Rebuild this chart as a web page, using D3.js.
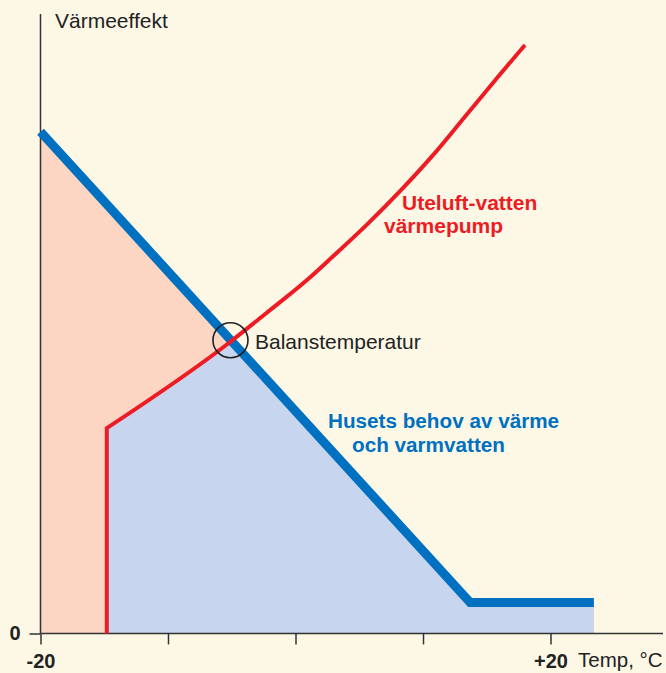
<!DOCTYPE html>
<html lang="sv">
<head>
<meta charset="utf-8" />
<title>Balanstemperatur</title>
<style>
  html, body { margin: 0; padding: 0; background: #fdf8e6; }
  svg { display: block; font-family: "Liberation Sans", Arial, Helvetica, sans-serif; }
</style>
</head>
<body>
<div id="chart"></div>
<script src="https://cdn.jsdelivr.net/npm/d3@7"></script>
<script>
"use strict";

// house demand (heat + hot water), temp in °C, effect in arbitrary units
const demandTemp = [-20, 13.7, 23.4];
const demandEffect = [16.2, 1.0, 1.0];

// air-to-water heat pump capacity
const pumpTemp = [-14.8, -14.8, -5.1, -2.3, 0.9, 2.9, 5.6, 8.2, 10.8, 13.4, 16.0, 18.0];
const pumpEffect = [0, 6.63, 9.42, 10.34, 11.41, 12.16, 13.2, 14.28, 15.45, 16.74, 18.03, 19.0];

const balanceTemp = -5.1;
const xTicks = [-20, -10, 0, 10, 20];
const xTickLabels = {"-20": "-20", "20": "+20"};

const width = 666, height = 673;
const colors = {bg: "#fdf8e6", pink: "#fcd5c3", lightBlue: "#c7d5ee", blue: "#0070c0", red: "#ed1c24", axis: "#333"};

const svg = d3.select("#chart").append("svg")
    .attr("width", width).attr("height", height);
svg.append("rect").attr("width", width).attr("height", height).attr("fill", colors.bg);

const x = d3.scaleLinear().domain([-20, 20]).range([40.5, 550.5]);
const y = d3.scaleLinear().domain([0, 20]).range([633.5, 14]);

const demand = demandTemp.map((t, i) => ({t, v: demandEffect[i]}));
const pump = pumpTemp.map((t, i) => ({t, v: pumpEffect[i]}));

// what the pump covers: pump curve up to balance point, then the demand
const covered = pump.slice(1).filter(d => d.t <= balanceTemp)
    .concat(demand.filter(d => d.t > balanceTemp));

const area = d3.area().x(d => x(d.t)).y0(y(0)).y1(d => y(d.v));
const line = d3.line().x(d => x(d.t)).y(d => y(d.v));
const smooth = d3.line().x(d => x(d.t)).y(d => y(d.v)).curve(d3.curveMonotoneX);

svg.append("path").datum(demand).attr("d", area).attr("fill", colors.pink);
svg.append("path").datum(covered).attr("d", area).attr("fill", colors.lightBlue);

// axes
svg.append("line")
    .attr("x1", x(-20)).attr("x2", x(-20))
    .attr("y1", y(0)).attr("y2", 14)
    .attr("stroke", colors.axis).attr("stroke-width", 1.5);
svg.append("line")
    .attr("x1", x(-20)).attr("x2", 663)
    .attr("y1", y(0)).attr("y2", y(0))
    .attr("stroke", colors.axis).attr("stroke-width", 1.5);

const xAxis = svg.append("g")
    .attr("transform", `translate(0,${y(0)})`)
    .call(d3.axisBottom(x).tickValues(xTicks).tickSize(11).tickPadding(9)
      .tickFormat(d => xTickLabels[d] || ""));
xAxis.select(".domain").remove();
xAxis.selectAll("line").attr("stroke", colors.axis).attr("stroke-width", 1.5);
xAxis.selectAll("text")
    .attr("fill", "#222").attr("font-size", 20).attr("font-weight", "bold")
    .attr("font-family", "'Liberation Sans', Arial, sans-serif");

const yAxis = svg.append("g")
    .attr("transform", `translate(${x(-20)},0)`)
    .call(d3.axisLeft(y).tickValues([0]).tickSize(11).tickPadding(9));
yAxis.select(".domain").remove();
yAxis.selectAll("line").attr("stroke", colors.axis).attr("stroke-width", 1.5);
yAxis.selectAll("text")
    .attr("fill", "#222").attr("font-size", 20).attr("font-weight", "bold")
    .attr("font-family", "'Liberation Sans', Arial, sans-serif");

svg.append("text")
    .attr("x", 55).attr("y", 28)
    .attr("font-size", 21).attr("fill", "#222")
    .text("Värmeeffekt");
svg.append("text")
    .attr("x", 578).attr("y", 667)
    .attr("font-size", 20.5).attr("fill", "#222")
    .text("Temp, °C");

// lines
svg.append("path").datum(demand).attr("d", line)
    .attr("fill", "none").attr("stroke", colors.blue)
    .attr("stroke-width", 9).attr("stroke-linejoin", "miter");

// vertical start of the pump curve, then a smooth curve from the knee
const knee = pump.slice(1);
const pumpPath = `M${x(pump[0].t)},${y(pump[0].v)}L` + smooth(knee).slice(1);
svg.append("path").attr("d", pumpPath)
    .attr("fill", "none").attr("stroke", colors.red)
    .attr("stroke-width", 4).attr("stroke-linejoin", "miter");

// balance point
const balanceEffect = pumpEffect[pumpTemp.indexOf(balanceTemp)];
svg.append("circle")
    .attr("cx", x(balanceTemp)).attr("cy", y(balanceEffect) - 1.5).attr("r", 17.5)
    .attr("fill", "none").attr("stroke", "#222").attr("stroke-width", 1.6);
svg.append("text")
    .attr("x", 255).attr("y", 349)
    .attr("font-size", 21).attr("fill", "#222")
    .text("Balanstemperatur");

// series labels
const redLabel = [["Uteluft-vatten", 402, 210], ["värmepump", 384, 233]];
svg.selectAll(".redLabel").data(redLabel).join("text")
    .attr("x", d => d[1]).attr("y", d => d[2])
    .attr("font-size", 21).attr("font-weight", "bold").attr("fill", colors.red)
    .text(d => d[0]);

const blueLabel = [["Husets behov av värme", 328, 428], ["och varmvatten", 352, 452]];
svg.selectAll(".blueLabel").data(blueLabel).join("text")
    .attr("x", d => d[1]).attr("y", d => d[2])
    .attr("font-size", 20.7).attr("font-weight", "bold").attr("fill", colors.blue)
    .text(d => d[0]);
</script>
</body>
</html>
